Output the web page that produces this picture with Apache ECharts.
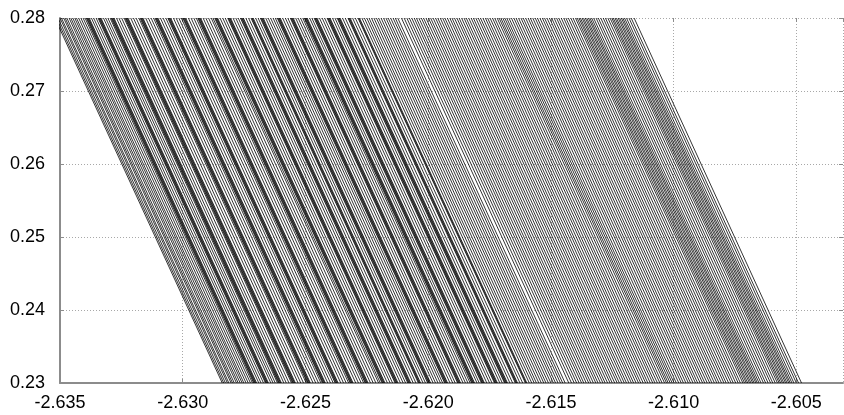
<!DOCTYPE html>
<html>
<head>
<meta charset="utf-8">
<script src="https://cdn.jsdelivr.net/npm/echarts@6/dist/echarts.min.js"></script>
<style>html,body{margin:0;padding:0;background:#fff}#c{width:844px;height:415px}</style>
</head>
<body>
<div id="c"></div>
<script>
// x ticks and y ticks
const xTicks = [-2.635, -2.630, -2.625, -2.620, -2.615, -2.610, -2.605];
const yTicks = [0.23, 0.24, 0.25, 0.26, 0.27, 0.28];
const yBottom = 0.23;
const yTop = 0.28;
// horizontal drift of each line between y=0.23 and y=0.28
const topShift = -0.00682;
// x of each line where it crosses y = 0.23
const xAtBottom = [
-2.62839,-2.62833,-2.62826,-2.62818,-2.62812,-2.62803,-2.62797,-2.62790,-2.62781,-2.62774,-2.62766,-2.62758,-2.62751,-2.62742,-2.62733,-2.62724,-2.62716,
-2.62711,-2.62708,-2.62705,-2.62702,-2.62699,-2.62690,-2.62681,-2.62671,
-2.62663,-2.62660,-2.62657,-2.62654,-2.62651,-2.62641,-2.62632,-2.62623,-2.62614,
-2.62610,-2.62607,-2.62604,-2.62601,-2.62598,-2.62588,-2.62578,-2.62567,-2.62557,
-2.62553,-2.62550,-2.62547,-2.62544,-2.62541,-2.62530,-2.62519,-2.62508,-2.62497,
-2.62492,-2.62489,-2.62486,-2.62483,-2.62480,-2.62469,-2.62458,-2.62447,-2.62437,
-2.62431,-2.62428,-2.62425,-2.62422,-2.62419,-2.62409,-2.62398,-2.62387,
-2.62379,-2.62376,-2.62373,-2.62370,-2.62367,-2.62356,-2.62345,-2.62334,-2.62324,
-2.62318,-2.62315,-2.62312,-2.62309,-2.62306,-2.62295,-2.62284,-2.62273,-2.62263,
-2.62257,-2.62254,-2.62251,-2.62248,-2.62245,-2.62235,-2.62224,-2.62213,-2.62202,-2.62195,
-2.62188,-2.62185,-2.62182,-2.62179,-2.62176,-2.62166,-2.62155,-2.62145,
-2.62135,-2.62132,-2.62129,-2.62126,-2.62123,-2.62113,-2.62102,-2.62092,
-2.62083,-2.62080,-2.62077,-2.62074,-2.62071,-2.62061,-2.62050,
-2.62040,-2.62037,-2.62034,-2.62031,-2.62021,-2.62011,
-2.62002,-2.61999,-2.61996,-2.61993,-2.61990,-2.61980,-2.61970,-2.61960,-2.61950,-2.61941,
-2.61933,-2.61930,-2.61927,-2.61924,-2.61921,-2.61911,-2.61900,-2.61890,
-2.61880,-2.61877,-2.61874,-2.61871,-2.61868,-2.61858,-2.61848,-2.61838,-2.61829,
-2.61823,-2.61820,-2.61817,-2.61814,-2.61811,-2.61801,-2.61792,
-2.61783,-2.61780,-2.61777,-2.61774,-2.61771,-2.61761,-2.61750,-2.61740,
-2.61730,-2.61727,-2.61724,-2.61721,-2.61718,-2.61708,-2.61698,
-2.61689,-2.61686,-2.61683,-2.61680,-2.61677,-2.61667,-2.61656,
-2.61645,-2.61642,-2.61639,-2.61636,-2.61626,-2.61615,
-2.61604,-2.61601,-2.61598,
-2.61588,-2.61578,-2.61568,-2.61559,-2.61549,-2.61539,-2.61529,-2.61520,-2.61510,-2.61500,
-2.61490,-2.61481,-2.61471,-2.61461,-2.61452,-2.61442,-2.61427,-2.61416,-2.61405,-2.61395,
-2.61385,-2.61375,-2.61366,-2.61356,-2.61346,-2.61337,-2.61327,-2.61317,-2.61308,-2.61298,
-2.61288,-2.61279,-2.61269,-2.61259,-2.61250,-2.61240,-2.61230,-2.61221,-2.61211,-2.61201,
-2.61192,-2.61182,-2.61172,-2.61163,-2.61153,-2.61143,-2.61134,-2.61124,-2.61114,-2.61105,
-2.61095,-2.61085,-2.61076,-2.61066,-2.61056,-2.61047,-2.61037,-2.61029,-2.61022,-2.61014,
-2.61006,-2.60998,-2.60989,-2.60979,-2.60969,-2.60960,-2.60950,-2.60940,-2.60931,-2.60921,
-2.60911,-2.60902,-2.60892,-2.60882,-2.60873,-2.60863,-2.60853,-2.60844,-2.60834,-2.60824,
-2.60815,-2.60805,-2.60795,-2.60786,-2.60776,-2.60766,-2.60757,-2.60747,-2.60737,-2.60728,
-2.60718,-2.60711,-2.60704,-2.60698,-2.60691,-2.60685,-2.60678,-2.60672,-2.60665,-2.60659,
-2.60652,-2.60644,-2.60634,-2.60625,-2.60615,-2.60605,-2.60596,-2.60586,-2.60577,
-2.60570,-2.60564,-2.60557,-2.60551,-2.60544,-2.60538,-2.60531,-2.60525,-2.60518,
-2.60510,-2.60500,-2.60491,-2.60479
];

const lineData = xAtBottom.map(function (xb) {
  return { coords: [[xb, yBottom], [xb + topShift, yTop]] };
});

const font = 'Liberation Sans, Arial, Helvetica, sans-serif';
const gridColor = '#a8a8a8';
const axisColor = '#8c8c8c';

const chart = echarts.init(document.getElementById('c'), null, { renderer: 'canvas' });
chart.setOption({
  animation: false,
  backgroundColor: '#fff',
  grid: { left: 60, right: 1, top: 18, bottom: 32, containLabel: false },
  xAxis: [{
    type: 'value', position: 'bottom',
    min: xTicks[0], max: -2.6031, interval: 0.005,
    axisLine: { show: true, onZero: false, lineStyle: { color: axisColor, width: 2 } },
    axisTick: { show: true, inside: true, length: 4, lineStyle: { color: axisColor } },
    axisLabel: { color: '#000', fontSize: 18, fontFamily: font, margin: 11, showMaxLabel: false,
      formatter: function (v) { return v.toFixed(3); } },
    splitLine: { show: true, lineStyle: { color: gridColor, type: [1, 2], width: 1 } }
  }, {
    type: 'value', position: 'top',
    min: xTicks[0], max: -2.6031, interval: 0.005,
    axisLine: { show: false },
    axisTick: { show: true, inside: true, length: 4, lineStyle: { color: axisColor } },
    axisLabel: { show: false },
    splitLine: { show: false }
  }],
  yAxis: [{
    type: 'value', position: 'left',
    min: yTicks[0], max: yTicks[yTicks.length - 1], interval: 0.01,
    axisLine: { show: true, onZero: false, lineStyle: { color: axisColor, width: 2 } },
    axisTick: { show: true, inside: true, length: 4, lineStyle: { color: axisColor } },
    axisLabel: { color: '#000', fontSize: 18, fontFamily: font, margin: 15,
      formatter: function (v) { return v.toFixed(2); } },
    splitLine: { show: true, lineStyle: { color: gridColor, type: [1, 2], width: 1 } }
  }, {
    type: 'value', position: 'right',
    min: yTicks[0], max: yTicks[yTicks.length - 1], interval: 0.01,
    axisLine: { show: false },
    axisTick: { show: true, inside: true, length: 4, lineStyle: { color: axisColor } },
    axisLabel: { show: false },
    splitLine: { show: false }
  }],
  series: [{
    type: 'lines',
    coordinateSystem: 'cartesian2d',
    xAxisIndex: 0, yAxisIndex: 0,
    polyline: false,
    clip: true,
    silent: true,
    lineStyle: { color: '#000', width: 0.8, opacity: 1, curveness: 0 },
    data: lineData
  }]
});
</script>
</body>
</html>
